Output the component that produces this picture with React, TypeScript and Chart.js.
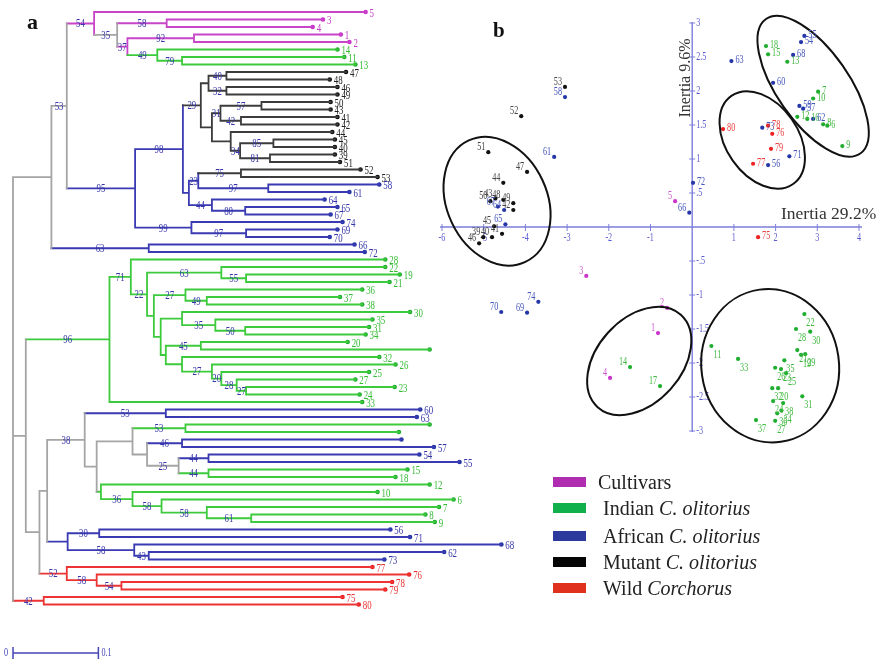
import React, { useEffect, useRef } from "react";
import { Chart, registerables } from "chart.js";
Chart.register(...registerables);

// ---------------- Panel a: dendrogram data ----------------
const leafOrder = [5,3,4,1,2,14,11,13,47,48,46,49,50,43,41,42,44,45,40,39,51,52,53,58,61,64,65,67,74,69,70,66,72,28,22,19,21,36,37,38,30,35,31,34,20,29,32,26,25,27,23,24,33,60,63,16,17,59,57,54,55,15,18,12,10,6,7,8,9,56,71,68,62,73,77,76,78,79,75,80];
const leafDistances = [0.413,0.363,0.351,0.384,0.394,0.380,0.388,0.401,0.390,0.371,0.380,0.380,0.372,0.372,0.380,0.380,0.374,0.377,0.377,0.377,0.383,0.407,0.427,0.429,0.394,0.365,0.380,0.372,0.386,0.380,0.371,0.400,0.412,0.436,0.436,0.453,0.441,0.409,0.383,0.409,0.465,0.421,0.417,0.413,0.392,0.488,0.429,0.448,0.417,0.401,0.447,0.406,0.409,0.477,0.473,0.488,0.452,0.455,0.493,0.476,0.523,0.462,0.448,0.488,0.427,0.516,0.499,0.483,0.494,0.442,0.465,0.572,0.505,0.435,0.421,0.464,0.444,0.436,0.386,0.405];
const unlabeledLeaves = [29, 16, 17, 59];

// group codes by accession id ranges
const groupCodes = ["C", "I", "M", "A", "W"];
const groupFirstId = [1, 6, 39, 54, 75];

// internal nodes: [name, distance, bootstrap, group, children]
type NodeDef = [string, number, string, string, string[]];
const clusterNodes: NodeDef[] = [
  ["nRoot", 0, "", "N", ["nB", "nC", "nW42"]],
  ["nB", 0.045, "", "N", ["nA", "nA63"]],
  ["nA", 0.063, "53", "N", ["nC54", "nA95"]],
  ["nC54", 0.095, "54", "C", ["L5", "nN35"]],
  ["nN35", 0.122, "35", "N", ["nC58", "nC37"]],
  ["nC58", 0.180, "58", "C", ["L3", "L4"]],
  ["nC37", 0.134, "37", "C", ["nC92", "nI49"]],
  ["nC92", 0.212, "92", "C", ["L1", "L2"]],
  ["nI49", 0.169, "49", "I", ["L14", "nI79"]],
  ["nI79", 0.198, "79", "I", ["L11", "L13"]],
  ["nA95", 0.143, "95", "A", ["nA98", "nA99"]],
  ["nA98", 0.199, "98", "A", ["nM29", "nA23g"]],
  ["nM29", 0.220, "29", "M", ["nM40g", "nM31g"]],
  ["nM40g", 0.229, "", "M", ["nM40", "nM32"]],
  ["nM40", 0.250, "40", "M", ["L47", "L48"]],
  ["nM32", 0.250, "32", "M", ["L46", "L49"]],
  ["nM31g", 0.233, "", "M", ["nM31", "nMx"]],
  ["nM31", 0.243, "31", "M", ["nM57", "nM42"]],
  ["nM57", 0.291, "57", "M", ["L50", "L43"]],
  ["nM42", 0.267, "42", "M", ["L41", "L42"]],
  ["nMx", 0.255, "", "M", ["L44", "nM34"]],
  ["nM34", 0.266, "34", "M", ["nM85", "nM81"]],
  ["nM85", 0.305, "85", "M", ["L45", "L40"]],
  ["nM81", 0.301, "81", "M", ["L39", "L51"]],
  ["nA23g", 0.206, "", "A", ["nA23", "nA44"]],
  ["nA23", 0.217, "23", "A", ["nM75", "nA97"]],
  ["nM75", 0.267, "75", "M", ["L52", "L53"]],
  ["nA97", 0.299, "97", "A", ["L58", "L61"]],
  ["nA44", 0.233, "44", "A", ["L64", "nA80"]],
  ["nA80", 0.272, "80", "A", ["L65", "L67"]],
  ["nA99", 0.209, "99", "A", ["L74", "nA97b"]],
  ["nA97b", 0.273, "97", "A", ["L69", "L70"]],
  ["nA63", 0.159, "63", "A", ["L66", "L72"]],
  ["nC", 0.015, "", "N", ["nI96", "nD"]],
  ["nI96", 0.113, "96", "I", ["nI71", "L33"]],
  ["nI71", 0.138, "71", "I", ["L28", "nI22"]],
  ["nI22", 0.157, "22", "I", ["nI63", "nI22b"]],
  ["nI63", 0.244, "63", "I", ["L22", "nI55"]],
  ["nI55", 0.273, "55", "I", ["L19", "L21"]],
  ["nI22b", 0.165, "", "I", ["nI27a", "nIE"]],
  ["nI27a", 0.202, "27", "I", ["L36", "nI49b"]],
  ["nI49b", 0.227, "49", "I", ["L37", "L38"]],
  ["nIE", 0.173, "", "I", ["nIF", "nIG"]],
  ["nIF", 0.198, "", "I", ["L30", "nI35"]],
  ["nI35", 0.237, "35", "I", ["L35", "nI50"]],
  ["nI50", 0.272, "50", "I", ["L31", "L34"]],
  ["nIG", 0.179, "", "I", ["nI45", "nIH"]],
  ["nI45", 0.220, "45", "I", ["L20", "L29"]],
  ["nIH", 0.198, "", "I", ["L32", "nI27b"]],
  ["nI27b", 0.233, "27", "I", ["L26", "nI20"]],
  ["nI20", 0.244, "20", "I", ["L25", "nI28"]],
  ["nI28", 0.262, "28", "I", ["L27", "nI27c"]],
  ["nI27c", 0.273, "27", "I", ["L23", "L24"]],
  ["nD", 0.031, "", "N", ["nI", "nW52"]],
  ["nI", 0.040, "", "N", ["nN38", "nJ"]],
  ["nN38", 0.084, "38", "N", ["nA53", "nK"]],
  ["nA53", 0.179, "53", "A", ["L60", "L63"]],
  ["nK", 0.098, "", "N", ["nP", "nM"]],
  ["nP", 0.140, "", "N", ["nI53", "nL"]],
  ["nI53", 0.202, "53", "I", ["L16", "L17"]],
  ["nL", 0.157, "", "N", ["nA46", "nN25"]],
  ["nA46", 0.198, "46", "A", ["L59", "L57"]],
  ["nN25", 0.194, "25", "N", ["nA44b", "nI44"]],
  ["nA44b", 0.229, "44", "A", ["L54", "L55"]],
  ["nI44", 0.229, "44", "I", ["L15", "L18"]],
  ["nM", 0.103, "", "I", ["L12", "nI36"]],
  ["nI36", 0.140, "36", "I", ["L10", "nI58a"]],
  ["nI58a", 0.174, "58", "I", ["L6", "nI58b"]],
  ["nI58b", 0.227, "58", "I", ["L7", "nI61"]],
  ["nI61", 0.279, "61", "I", ["L8", "L9"]],
  ["nJ", 0.064, "", "A", ["nA30", "nA58"]],
  ["nA30", 0.101, "30", "A", ["L56", "L71"]],
  ["nA58", 0.142, "58", "A", ["L68", "nA43"]],
  ["nA43", 0.159, "43", "A", ["L62", "L73"]],
  ["nW52", 0.063, "52", "W", ["L77", "nW58"]],
  ["nW58", 0.098, "58", "W", ["L76", "nW54"]],
  ["nW54", 0.127, "54", "W", ["L78", "L79"]],
  ["nW42", 0.036, "42", "W", ["L75", "L80"]],
];
const scaleBarValues = [0, 0.1];

// ---------------- Panel b: PCA data ----------------
const cultivarIds = ["5", "3", "2", "1", "4"];
const cultivarPC1 = [-0.41, -2.54, -0.6, -0.82, -1.97];
const cultivarPC2 = [0.38, -0.72, -1.19, -1.56, -2.22];

const indianIds = ["14","17","11","33","22","28","30","21","19","29","35","26","23","25","32","20","24","38","31","36","34","27","37","18","15","13","7","10","12","16","8","6","9"];
const indianPC1 = [-1.49,-0.77,0.46,1.10,2.69,2.49,2.83,2.52,2.61,2.71,2.21,1.99,2.13,2.25,1.92,2.06,1.94,2.18,2.64,2.04,2.14,1.99,1.53,1.77,1.82,2.28,3.02,2.90,2.52,2.76,3.14,3.24,3.60];
const indianPC2 = [-2.06,-2.34,-1.75,-1.94,-1.28,-1.50,-1.54,-1.81,-1.88,-1.87,-1.96,-2.07,-2.09,-2.15,-2.37,-2.37,-2.56,-2.59,-2.49,-2.74,-2.70,-2.85,-2.84,2.66,2.54,2.43,1.99,1.89,1.62,1.59,1.51,1.49,1.19];

const africanIds = ["55","54","68","60","59","57","62","73","71","56","63","72","66","58","61","74","70","69","67","64","65"];
const africanPC1 = [2.69,2.61,2.42,1.94,2.57,2.66,2.90,1.68,2.33,1.82,0.94,0.02,-0.07,-3.05,-3.31,-3.69,-4.58,-3.96,-4.66,-4.51,-4.48];
const africanPC2 = [2.81,2.72,2.53,2.12,1.78,1.74,1.59,1.46,1.04,0.91,2.44,0.65,0.21,1.91,1.03,-1.10,-1.25,-1.26,0.30,0.25,0.04];

const mutantIds = ["53","52","51","47","44","50","43","48","49","42","45","41","40","39","46"];
const mutantPC1 = [-3.05,-4.10,-4.89,-3.96,-4.53,-4.84,-4.72,-4.53,-4.29,-4.29,-4.75,-4.56,-4.80,-5.01,-5.11];
const mutantPC2 = [2.06,1.63,1.10,0.81,0.65,0.38,0.42,0.40,0.35,0.25,0.01,-0.10,-0.15,-0.15,-0.24];

const wildIds = ["80","78","76","79","77","75"];
const wildPC1 = [0.74,1.82,1.92,1.89,1.46,1.58];
const wildPC2 = [1.44,1.49,1.37,1.15,0.93,-0.15];

const pcaXTicks = [-6,-5,-4,-3,-2,-1,1,2,3,4];
const pcaYTicks = [3,2.5,2,1.5,1,0.5,-0.5,-1,-1.5,-2,-2.5,-3];
const inertiaPC1 = "Inertia 29.2%";
const inertiaPC2 = "Inertia 9.6%";

// concentration ellipses (centre in PCA units, half axes in PCA units, tilt in degrees)
const ellipseCx = [-4.68, 2.90, 1.68, -1.27, 1.87];
const ellipseCy = [0.38, 2.07, 1.28, -1.97, -2.04];
const ellipseRx = [1.20, 1.97, 1.29, 1.49, 1.65];
const ellipseRy = [0.985, 0.53, 0.53, 0.62, 1.13];
const ellipseTilt = [-25, 55, 55, -48, -8];

const legendLabels = ["Cultivars", "Indian ", "African ", "Mutant ", "Wild "];
const legendItalic = ["", "C. olitorius", "C. olitorius", "C. olitorius", "Corchorus"];

// ---------------- styles ----------------
const treeColors: Record<string, string> = { C: "#c844c8", I: "#3dcb3d", A: "#3a3ab2", M: "#3c3c3c", W: "#ec3434", N: "#a5a5a5" };
const leafTextColors: Record<string, string> = { C: "#c23ec2", I: "#33bb33", A: "#3535a8", M: "#222222", W: "#e83030" };
const dotColors: Record<string, string> = { C: "#cc33cc", I: "#1fae2f", A: "#2536a8", M: "#111111", W: "#ec2222" };
const pcaTextColors: Record<string, string> = { C: "#cc55cc", I: "#40b840", A: "#4455bb", M: "#444444", W: "#ee4040" };
const legendColors = ["#b02cb0", "#12b04c", "#2c3a9e", "#050505", "#e0301e"];
const FONT = "'Liberation Serif', 'DejaVu Serif', serif";

function groupOf(id: number): string {
  let g = groupCodes[0];
  groupFirstId.forEach((f, i) => { if (id >= f) g = groupCodes[i]; });
  return g;
}

function drawText(ctx: CanvasRenderingContext2D, text: string, x: number, y: number, size: number, color: string,
  align: CanvasTextAlign = "left", sx = 0.68, baseline: CanvasTextBaseline = "middle", weight = "") {
  ctx.save();
  ctx.translate(x, y);
  ctx.scale(sx, 1);
  ctx.font = `${weight} ${size}px ${FONT}`;
  ctx.fillStyle = color;
  ctx.textAlign = align;
  ctx.textBaseline = baseline;
  ctx.fillText(text, 0, 0);
  ctx.restore();
}

type P = { x: number; y: number; group: string };

function layoutTree() {
  const nodeMap = new Map<string, NodeDef>(clusterNodes.map((n) => [n[0], n]));
  const pos = new Map<string, P>();
  const place = (name: string): P => {
    const cached = pos.get(name);
    if (cached) return cached;
    let p: P;
    if (name.startsWith("L")) {
      const id = parseInt(name.slice(1), 10);
      const i = leafOrder.indexOf(id);
      p = { x: leafDistances[i], y: i, group: groupOf(id) };
    } else {
      const n = nodeMap.get(name)!;
      const kids = n[4].map(place);
      const ys = kids.map((k) => k.y);
      p = { x: n[1], y: (Math.min(...ys) + Math.max(...ys)) / 2, group: n[3] };
    }
    pos.set(name, p);
    return p;
  };
  place("nRoot");
  return { pos, nodeMap };
}

function buildDendro() {
  const { pos, nodeMap } = layoutTree();
  const segs: Record<string, { x: number; y: number }[]> = {};
  const boots: { x: number; y: number; t: string }[] = [];
  const add = (code: string, a: { x: number; y: number }, b: { x: number; y: number }) => {
    (segs[code] = segs[code] || []).push(a, b, { x: NaN, y: NaN });
  };
  for (const n of clusterNodes) {
    const p = pos.get(n[0])!;
    for (const k of n[4]) {
      const c = pos.get(k)!;
      add(n[3], { x: p.x, y: p.y }, { x: p.x, y: c.y });
      add(c.group, { x: p.x, y: c.y }, { x: c.x, y: c.y });
      const kd = nodeMap.get(k);
      if (kd && kd[2]) boots.push({ x: (p.x + c.x) / 2, y: c.y, t: kd[2] });
    }
  }
  const order = ["N", "M", "A", "I", "C", "W"];
  const datasets: any[] = order.filter((c) => segs[c]).map((c) => ({
    label: "tree-" + c,
    data: segs[c],
    showLine: true,
    borderColor: treeColors[c],
    borderWidth: 1.8,
    borderCapStyle: "square",
    pointRadius: 0,
    spanGaps: false,
    clip: false,
  }));
  datasets.push({
    label: "leaves",
    data: leafOrder.map((id, i) => ({ x: leafDistances[i], y: i })),
    showLine: false,
    pointRadius: 2.3,
    pointBorderWidth: 0,
    pointBackgroundColor: leafOrder.map((id) => dotColors[groupOf(id)]),
    clip: false,
  });
  const barY = 85.45;
  datasets.push({
    label: "scale",
    data: [
      { x: scaleBarValues[0], y: barY }, { x: scaleBarValues[1], y: barY }, { x: NaN, y: NaN },
      { x: scaleBarValues[0], y: barY - 0.8 }, { x: scaleBarValues[0], y: barY + 0.8 }, { x: NaN, y: NaN },
      { x: scaleBarValues[1], y: barY - 0.8 }, { x: scaleBarValues[1], y: barY + 0.8 },
    ],
    showLine: true,
    borderColor: "#4646b8",
    borderWidth: 1.5,
    pointRadius: 0,
    spanGaps: false,
    clip: false,
  });

  const textPlugin = {
    id: "dendroText",
    afterDatasetsDraw(chart: any) {
      const ctx: CanvasRenderingContext2D = chart.ctx;
      const xs = chart.scales.x, ys = chart.scales.y;
      for (const b of boots) {
        drawText(ctx, b.t, xs.getPixelForValue(b.x), ys.getPixelForValue(b.y) + 0.5, 13, "#3636aa", "center");
      }
      leafOrder.forEach((id, i) => {
        if (unlabeledLeaves.includes(id)) return;
        drawText(ctx, String(id), xs.getPixelForValue(leafDistances[i]) + 4, ys.getPixelForValue(i) + 1.5, 13, leafTextColors[groupOf(id)]);
      });
      const by = ys.getPixelForValue(barY);
      drawText(ctx, String(scaleBarValues[0]), xs.getPixelForValue(scaleBarValues[0]) - 5, by, 12, "#4646b8", "right");
      drawText(ctx, String(scaleBarValues[1]), xs.getPixelForValue(scaleBarValues[1]) + 3, by, 12, "#4646b8", "left");
      drawText(ctx, "a", 27, 29, 22, "#111", "left", 1, "alphabetic", "bold");
    },
  };

  return {
    type: "scatter",
    data: { datasets },
    options: {
      animation: false,
      responsive: false,
      devicePixelRatio: 1,
      events: [],
      layout: { padding: { left: 13, right: 0, top: 12, bottom: 0 } },
      scales: {
        x: { type: "linear", min: 0, max: 0.636, display: false },
        y: { type: "linear", min: 0, max: 86, reverse: true, display: false },
      },
      plugins: { legend: { display: false }, tooltip: { enabled: false } },
    },
    plugins: [textPlugin],
  } as any;
}

function buildPca() {
  const series = [
    { code: "C", ids: cultivarIds, xs: cultivarPC1, ys: cultivarPC2, name: "Cultivars" },
    { code: "I", ids: indianIds, xs: indianPC1, ys: indianPC2, name: "Indian C. olitorius" },
    { code: "A", ids: africanIds, xs: africanPC1, ys: africanPC2, name: "African C. olitorius" },
    { code: "M", ids: mutantIds, xs: mutantPC1, ys: mutantPC2, name: "Mutant C. olitorius" },
    { code: "W", ids: wildIds, xs: wildPC1, ys: wildPC2, name: "Wild Corchorus" },
  ];
  const datasets = series.map((s) => ({
    label: s.name,
    data: s.xs.map((v, i) => ({ x: v, y: s.ys[i] })),
    showLine: false,
    pointRadius: 2.1,
    pointBorderWidth: 0,
    pointBackgroundColor: dotColors[s.code],
    clip: false,
  }));
  const axisColor = "#7e7edc";
  const tickColor = "#5a5ad0";
  const plugin = {
    id: "pcaDecor",
    beforeDatasetsDraw(chart: any) {
      const ctx: CanvasRenderingContext2D = chart.ctx;
      const xs = chart.scales.x, ys = chart.scales.y;
      const x0 = xs.getPixelForValue(0), y0 = ys.getPixelForValue(0);
      ctx.save();
      ctx.strokeStyle = axisColor;
      ctx.lineWidth = 1.4;
      ctx.beginPath();
      ctx.moveTo(xs.getPixelForValue(pcaXTicks[0]) - 2, y0);
      ctx.lineTo(xs.getPixelForValue(pcaXTicks[pcaXTicks.length - 1]) + 3, y0);
      ctx.moveTo(x0, ys.getPixelForValue(pcaYTicks[0]) - 1);
      ctx.lineTo(x0, ys.getPixelForValue(pcaYTicks[pcaYTicks.length - 1]) + 1);
      ctx.stroke();
      ctx.lineWidth = 1;
      ctx.beginPath();
      for (const t of pcaXTicks) {
        const px = xs.getPixelForValue(t);
        ctx.moveTo(px, y0 - 3);
        ctx.lineTo(px, y0 + 4);
      }
      for (const t of pcaYTicks) {
        const py = ys.getPixelForValue(t);
        ctx.moveTo(x0 - 3, py);
        ctx.lineTo(x0 + 3, py);
      }
      ctx.stroke();
      ctx.restore();
      for (const t of pcaXTicks) {
        drawText(ctx, String(t), xs.getPixelForValue(t), y0 + 11, 12, tickColor, "center");
      }
      for (const t of pcaYTicks) {
        const lab = Math.abs(t) < 1 ? (t < 0 ? "-" : "") + "." + String(Math.abs(t)).split(".")[1] : String(t);
        drawText(ctx, lab, x0 + 4, ys.getPixelForValue(t), 12, tickColor, "left");
      }
      drawText(ctx, inertiaPC1, 781 - 430, 219, 17.5, "#333", "left", 1, "alphabetic");
      ctx.save();
      ctx.translate(690 - 430, 78);
      ctx.rotate(-Math.PI / 2);
      drawText(ctx, inertiaPC2, 0, 0, 16, "#333", "center", 1, "alphabetic");
      ctx.restore();
      drawText(ctx, "b", 493 - 430, 37, 21, "#111", "left", 1, "alphabetic", "bold");
    },
    afterDatasetsDraw(chart: any) {
      const ctx: CanvasRenderingContext2D = chart.ctx;
      const xs = chart.scales.x, ys = chart.scales.y;
      ctx.save();
      ctx.strokeStyle = "#111";
      ctx.lineWidth = 2;
      ellipseCx.forEach((cx, i) => {
        const px = xs.getPixelForValue(cx), py = ys.getPixelForValue(ellipseCy[i]);
        const rx = Math.abs(xs.getPixelForValue(cx + ellipseRx[i]) - px);
        const ry = Math.abs(ys.getPixelForValue(ellipseCy[i] + ellipseRy[i]) - py);
        ctx.beginPath();
        ctx.ellipse(px, py, rx, ry, (ellipseTilt[i] * Math.PI) / 180, 0, Math.PI * 2);
        ctx.stroke();
      });
      ctx.restore();
      for (const s of series) {
        s.ids.forEach((id, i) => {
          const xv = s.xs[i], yv = s.ys[i];
          const px = xs.getPixelForValue(xv), py = ys.getPixelForValue(yv);
          const col = pcaTextColors[s.code];
          if (xv < 0) drawText(ctx, id, px - 3, py - 5, 12, col, "right");
          else if (yv < -1) drawText(ctx, id, px + 2, py + 9, 12, col, "left");
          else drawText(ctx, id, px + 4, py - 1, 12, col, "left");
        });
      }
    },
  };
  return {
    type: "scatter",
    data: { datasets },
    options: {
      animation: false,
      responsive: false,
      devicePixelRatio: 1,
      events: [],
      layout: { padding: { left: 12, right: 20, top: 23, bottom: 29 } },
      scales: {
        x: { type: "linear", min: -6, max: 4, display: false },
        y: { type: "linear", min: -3, max: 3, display: false },
      },
      plugins: { legend: { display: false }, tooltip: { enabled: false } },
    },
    plugins: [plugin],
  } as any;
}

const legendRowY = [482, 508, 536, 562, 588];

export default function App() {
  const dendroRef = useRef<HTMLCanvasElement>(null);
  const pcaRef = useRef<HTMLCanvasElement>(null);
  useEffect(() => {
    const c1 = new Chart(dendroRef.current!, buildDendro());
    const c2 = new Chart(pcaRef.current!, buildPca());
    return () => {
      c1.destroy();
      c2.destroy();
    };
  }, []);
  return (
    <div style={{ position: "absolute", left: 0, top: 0, width: 879, height: 661, background: "#fff", overflow: "hidden", fontFamily: FONT }}>
      <canvas ref={dendroRef} width={560} height={661} style={{ position: "absolute", left: 0, top: 0, width: 560, height: 661 }} />
      <canvas ref={pcaRef} width={449} height={460} style={{ position: "absolute", left: 430, top: 0, width: 449, height: 460 }} />
      {legendLabels.map((lab, i) => (
        <div key={i} style={{ position: "absolute", left: 553, top: legendRowY[i] - 10, height: 20, display: "flex", alignItems: "center", whiteSpace: "nowrap" }}>
          <span style={{ display: "inline-block", width: 33, height: 10, background: legendColors[i] }} />
          <span style={{ marginLeft: i === 0 ? 12 : 17, fontSize: 20, lineHeight: "20px", color: "#222" }}>
            {lab}
            {legendItalic[i] ? <i>{legendItalic[i]}</i> : null}
          </span>
        </div>
      ))}
    </div>
  );
}
